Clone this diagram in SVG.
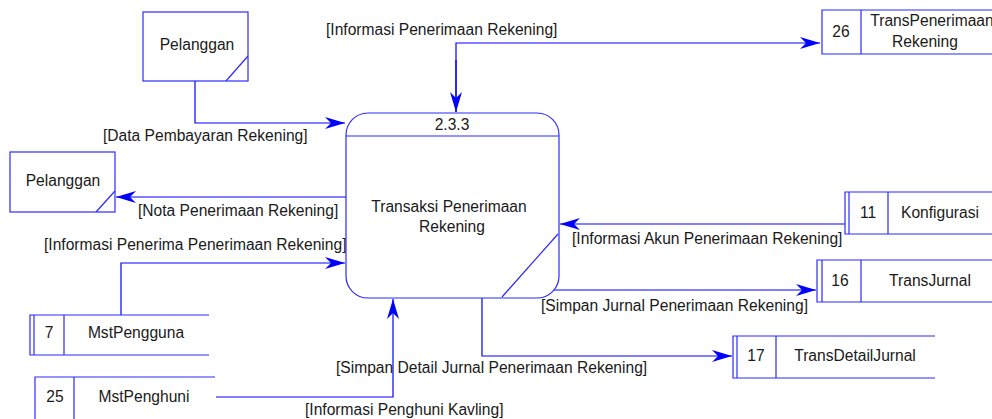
<svg xmlns="http://www.w3.org/2000/svg" width="992" height="419" viewBox="0 0 992 419">
<defs>
<marker id="arr" markerUnits="userSpaceOnUse" markerWidth="22" markerHeight="14" viewBox="-22 -7 22 14" refX="0" refY="0" orient="auto">
<path d="M0,0 L-20,-6 L-14,0 L-20,6 Z" fill="#0000ff"/>
</marker>
</defs>
<style>
text{font-family:"Liberation Sans",Arial,sans-serif;font-size:15.6px;fill:#1a1a1a}
.n{fill:#fff;stroke:#2a2aff;stroke-width:1.2}
.l{fill:none;stroke:#2a2aff;stroke-width:1.2}
.c{fill:none;stroke:#0000ff;stroke-width:1.2}
.m{text-anchor:middle}
</style>
<rect width="992" height="419" fill="#fff"/>
<g id="connectors">
<polyline class="c" points="195,81 195,123 345,123" marker-end="url(#arr)"/>
<line class="c" x1="346" y1="197" x2="116" y2="197" marker-end="url(#arr)"/>
<polyline class="c" points="456,112 456,43 820,43" marker-end="url(#arr)"/>
<line class="c" x1="456" y1="60" x2="456" y2="112" marker-end="url(#arr)"/>
<line class="c" x1="845" y1="224" x2="560" y2="224" marker-end="url(#arr)"/>
<line class="c" x1="554" y1="290" x2="816" y2="290" marker-end="url(#arr)"/>
<polyline class="c" points="482,298 482,356 732,356" marker-end="url(#arr)"/>
<polyline class="c" points="121,315 121,263 345,263" marker-end="url(#arr)"/>
<polyline class="c" points="216,397 393,397 393,299" marker-end="url(#arr)"/>
<text x="103" y="141">[Data Pembayaran Rekening]</text>
<text x="138" y="216">[Nota Penerimaan Rekening]</text>
<text x="326" y="35">[Informasi Penerimaan Rekening]</text>
<text x="572" y="244">[Informasi Akun Penerimaan Rekening]</text>
<text x="541" y="311">[Simpan Jurnal Penerimaan Rekening]</text>
<text x="336" y="373">[Simpan Detail Jurnal Penerimaan Rekening]</text>
<text x="44" y="250">[Informasi Penerima Penerimaan Rekening]</text>
<text x="305" y="415">[Informasi Penghuni Kavling]</text>
</g>
<g id="pelanggan1">
<rect class="n" x="143" y="12" width="105" height="69"/>
<line class="l" x1="226" y1="81" x2="248" y2="56"/>
<text class="m" x="197" y="50">Pelanggan</text>
</g>
<g id="pelanggan2">
<rect class="n" x="10" y="152" width="105" height="60"/>
<line class="l" x1="96" y1="212" x2="115" y2="191"/>
<text class="m" x="63" y="186">Pelanggan</text>
</g>
<g id="process">
<rect class="n" x="346" y="113" width="213" height="185" rx="22" ry="22"/>
<line class="l" x1="346" y1="136" x2="559" y2="136"/>
<line class="l" x1="502" y1="297" x2="558" y2="234"/>
<text class="m" x="452" y="130">2.3.3</text>
<text class="m" x="449" y="212">Transaksi Penerimaan</text>
<text class="m" x="452" y="232">Rekening</text>
</g>
<g id="store26">
<path class="l" d="M992,10 H822 V54 H992 M861,10 V54"/>
<text class="m" x="841" y="37">26</text>
<text class="m" x="932" y="26">TransPenerimaan</text>
<text class="m" x="925" y="47">Rekening</text>
</g>
<g id="store11">
<path class="l" d="M992,192 H845 V234 H992 M849,192 V234 M888,192 V234"/>
<text class="m" x="868" y="218">11</text>
<text class="m" x="940" y="218">Konfigurasi</text>
</g>
<g id="store16">
<path class="l" d="M992,260 H817 V302 H992 M822,260 V302 M861,260 V302"/>
<text class="m" x="840" y="286">16</text>
<text class="m" x="930" y="286">TransJurnal</text>
</g>
<g id="store17">
<path class="l" d="M935,336 H733 V378 H935 M737,336 V378 M776,336 V378"/>
<text class="m" x="756" y="361">17</text>
<text class="m" x="855" y="361">TransDetailJurnal</text>
</g>
<g id="store7">
<path class="l" d="M209,315 H30 V355 H209 M34,315 V355 M64,315 V355"/>
<text class="m" x="49" y="338">7</text>
<text class="m" x="136" y="338">MstPengguna</text>
</g>
<g id="store25">
<path class="l" d="M215,377 H35 V419 M74,377 V419"/>
<text class="m" x="55" y="402">25</text>
<text class="m" x="144" y="402">MstPenghuni</text>
</g>
</svg>
